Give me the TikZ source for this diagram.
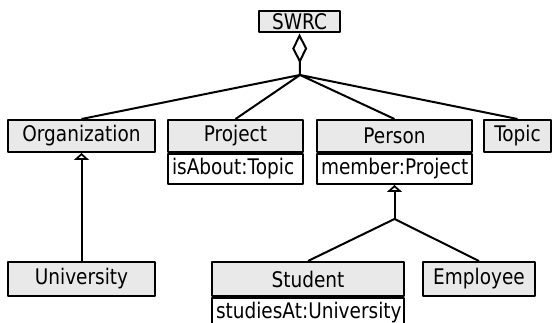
\documentclass[tikz,border=0pt]{standalone}
\usepackage{fontspec}
\setmainfont[FakeStretch=0.86]{DejaVu Sans}
\usetikzlibrary{arrows.meta}
\definecolor{headgray}{RGB}{233,233,233}

\begin{document}
\begin{tikzpicture}[x=1pt, y=1pt, line width=2pt, line join=round,
        font=\fontsize{21.5}{25}\selectfont,
        head/.style={draw, fill=headgray, inner sep=0pt, minimum height=32pt},
        attr/.style={draw, fill=white, anchor=north, inner xsep=4pt, inner ysep=0pt,
            minimum height=30pt, align=left},
        agg/.style={{Diamond[open, length=30pt, width=15pt]}-},
        inh/.style={-{Triangle[open, length=7pt, width=15pt]}}]
        \useasboundingbox (0, 0) rectangle (553, 323);

        % root class with its aggregation point
        \node[head, minimum width=81pt, minimum height=21pt] (C0) at (299.5, 301) {SWRC};
        \coordinate (J1) at (300, 248);

        % first row
        \node[head, minimum width=147pt] (C1) at (81.5, 187) {Organization};
        \node[head, minimum width=135pt] (C2) at (235.5, 187) {Project};
        \node[attr, text width=127pt] (A2) at (C2.south) {isAbout:Topic};
        \node[head, minimum width=155pt] (C3) at (394.5, 187) {Person};
        \node[attr, text width=147pt] (A3) at (C3.south) {member:Project};
        \node[head, minimum width=67pt] (C4) at (517.5, 187) {Topic};

        % second row
        \node[head, minimum width=147pt, minimum height=34pt] (C5) at (81.5, 44) {University};
        \node[head, minimum width=192pt, minimum height=34pt] (C6) at (308, 44) {Student};
        \node[attr, text width=184pt] (A6) at (C6.south) {studiesAt:University};
        \node[head, minimum width=112pt, minimum height=34pt] (C7) at (479, 44) {Employee};
        \coordinate (J2) at (394.5, 104);

        \draw[agg] (C0.south) to (J1);
        \draw (C1.north) to (J1) to (C2.north);
        \draw (C3.north) to (J1) to (C4.north);

        \draw[inh] (C5.north) to (C1.south);
        \draw[inh] (J2) to (A3.south);
        \draw (C6.north) to (J2) to (C7.north);
    \end{tikzpicture}
\end{document}
